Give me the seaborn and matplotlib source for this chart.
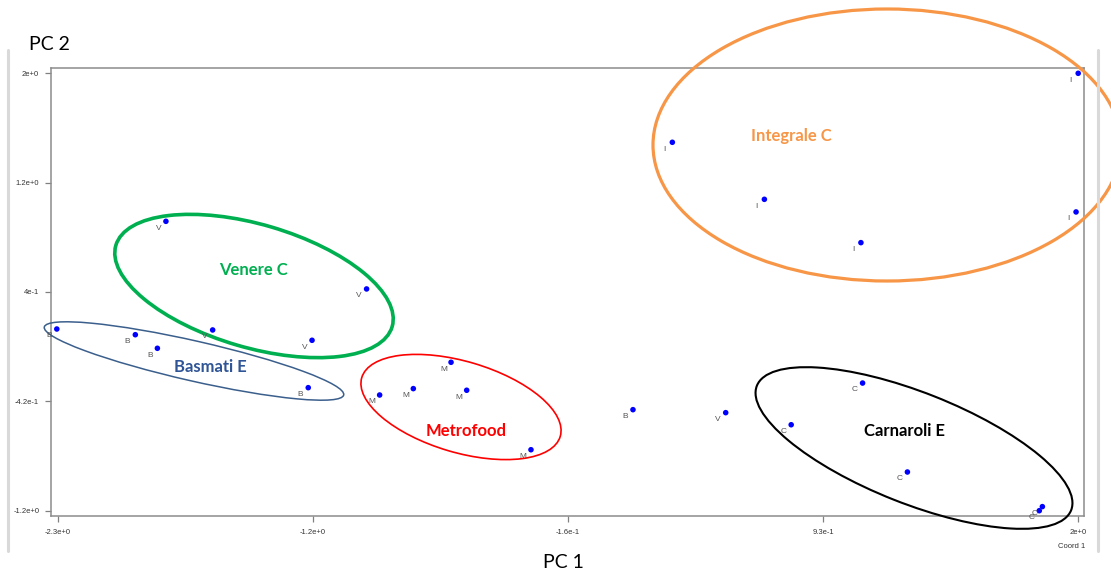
import numpy as np
import pandas as pd
import matplotlib
matplotlib.use("Agg")
import matplotlib.pyplot as plt
import matplotlib.transforms as mtransforms
from matplotlib.patches import Ellipse
from matplotlib.lines import Line2D
import seaborn as sns

# ---------------- data ----------------
codes = ["B", "B", "B", "B", "B",
         "V", "V", "V", "V", "V",
         "M", "M", "M", "M", "M",
         "I", "I", "I", "I", "I",
         "C", "C", "C", "C", "C"]
pc1 = [-2.305, -1.974, -1.881, -1.245, 0.124,
       -1.845, -0.999, -1.648, -1.229, 0.515,
       -0.643, -0.944, -0.802, -0.577, -0.306,
       2.001, 0.290, 0.678, 1.085, 1.992,
       1.092, 0.791, 1.281, 1.850, 1.837]
pc2 = [0.117, 0.075, -0.025, -0.315, -0.477,
       0.910, 0.412, 0.110, 0.034, -0.499,
       -0.128, -0.369, -0.322, -0.334, -0.772,
       2.000, 1.492, 1.072, 0.753, 0.979,
       -0.281, -0.588, -0.936, -1.191, -1.221]

x_ticks = [-2.3, -1.225, -0.15, 0.925, 2.0]
x_tick_labels = ["-2.3e+0", "-1.2e+0", "-1.6e-1", "9.3e-1", "2e+0"]
y_ticks = [-1.22, -0.415, 0.39, 1.195, 2.0]
y_tick_labels = ["-1.2e+0", "-4.2e-1", "4e-1", "1.2e+0", "2e+0"]

group_names = ["Venere C", "Basmati E", "Metrofood", "Integrale C", "Carnaroli E"]
group_colors = ["#00B050", "#2F5597", "#FF0000", "#F79646", "#000000"]

df = pd.DataFrame({"PC1": pc1, "PC2": pc2, "code": codes})

# ---------------- layout (pixel space of 1111x574 image) ----------------
W, H = 1111, 574
# ellipse: centre x, centre y, width, height, angle (deg, y-down), line width, edge colour
ellipse_layout = [
    (254, 286, 288, 123, 16.4, 2.6, "#00B050"),
    (194, 361, 307, 40, 12.8, 1.1, "#3B5F8C"),
    (461, 407, 207, 91, 16.5, 1.2, "#FF0000"),
    (887, 145, 468, 272, 0.0, 2.3, "#F79646"),
    (914, 448, 338, 111, 21.6, 1.5, "#000000"),
]
label_pos = [(253, 270), (210, 367), (466, 431), (791, 136), (905, 431)]

sns.set_theme(style="white")
plt.rcParams["font.family"] = ["Liberation Sans", "DejaVu Sans"]

fig = plt.figure(figsize=(W / 100, H / 100), dpi=100)
ax = fig.add_axes([51 / W, 1 - 516 / H, (1084 - 51) / W, (516 - 68) / H])

pix = mtransforms.Affine2D().scale(1 / 100, -1 / 100).translate(0, H / 100) + fig.dpi_scale_trans

sns.scatterplot(data=df, x="PC1", y="PC2", color="#0000FF", s=16,
                edgecolor="none", ax=ax, zorder=4, legend=False)

for xv, yv, c in zip(pc1, pc2, codes):
    ax.annotate(c, (xv, yv), xytext=(-5.5, -5), textcoords="offset points",
                ha="center", va="center", fontsize=6, color="#555555", zorder=4)

ax.set_xlim(-2.3295, 2.0255)
ax.set_ylim(-1.26, 2.039)
ax.set_xticks(x_ticks)
ax.set_xticklabels(x_tick_labels)
ax.set_yticks(y_ticks)
ax.set_yticklabels(y_tick_labels)
ax.set_xlabel("")
ax.set_ylabel("")
ax.tick_params(axis="both", which="both", direction="out", length=4, width=0.9,
               color="#808080", labelsize=5.5, labelcolor="#333333",
               bottom=True, left=True)
ax.tick_params(axis="x", pad=5)
ax.tick_params(axis="y", pad=4.5)
for sp in ax.spines.values():
    sp.set_color("#8c8c8c")
    sp.set_linewidth(1.1)
    sp.set_visible(True)
ax.grid(False)

for (cx, cy, w, h, ang, lw, ec) in ellipse_layout:
    e = Ellipse((cx, cy), w, h, angle=ang, transform=pix, fill=False,
                edgecolor=ec, linewidth=lw, clip_on=False, zorder=3)
    ax.add_patch(e)

for name, col, (lx, ly) in zip(group_names, group_colors, label_pos):
    fig.text(lx, ly, name, transform=pix, ha="center", va="center",
             fontsize=12, fontweight="bold", color=col, family=["Lato", "DejaVu Sans"])

fig.text(49, 45, "PC 2", transform=pix, ha="center", va="center",
         fontsize=14, color="#000000", family=["Lato", "DejaVu Sans"])
fig.text(563, 562, "PC 1", transform=pix, ha="center", va="center",
         fontsize=14, color="#000000", family=["Lato", "DejaVu Sans"])
fig.text(1085, 547, "Coord 1", transform=pix, ha="right", va="center",
         fontsize=5.5, color="#333333")

# window frame bars
for xb in (8, 1098):
    fig.add_artist(Line2D([xb, xb], [50, 551], transform=pix, color="#d9d9d9", linewidth=2.2))

fig.savefig("out.png", dpi=100)
